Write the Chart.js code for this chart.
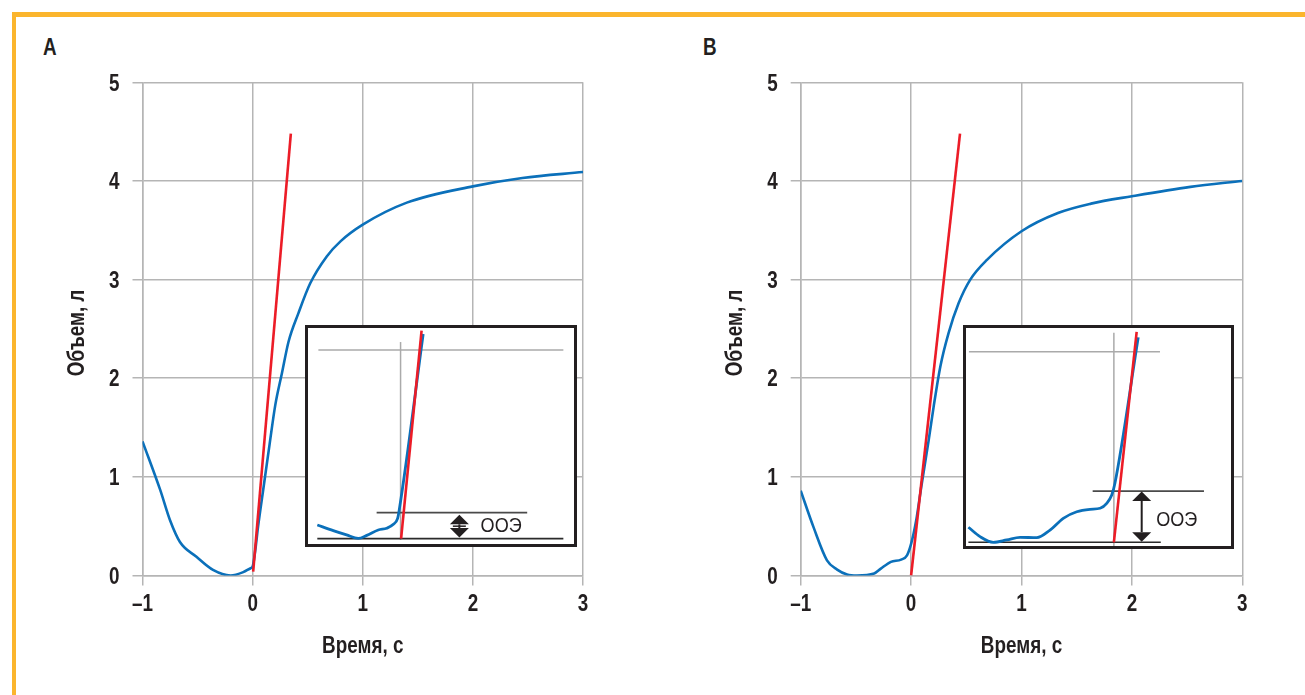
<!DOCTYPE html>
<html lang="ru">
<head>
<meta charset="utf-8">
<title>Объем и время</title>
<script src="https://cdn.jsdelivr.net/npm/chart.js@4.4.1/dist/chart.umd.min.js"></script>
<style>
  html, body { margin: 0; padding: 0; background: #fff; }
  body { width: 1305px; height: 695px; position: relative; overflow: hidden;
         font-family: "Liberation Sans", Arial, sans-serif; }
  .frame { position: absolute; left: 12px; top: 12px; right: -10px; bottom: -10px;
           border-top: 5px solid #fbb52d; border-left: 4px solid #fbb52d; }
  .panel-label { position: absolute; top: 36.3px; font-size: 23px; line-height: 23px;
                 font-weight: bold; color: #231f20; transform: scaleX(0.82); transform-origin: 0 0; }
  .main { position: absolute; top: 60px; }
  .inset { position: absolute; top: 325px; background: #fff; border: 3px solid #231f20;
           box-sizing: border-box; }
  .inset canvas { display: block; }
</style>
</head>
<body>
<div class="frame"></div>
<div class="panel-label" style="left:43px">A</div>
<div class="panel-label" style="left:703px">B</div>

<canvas id="chartA" class="main" style="left:40px" width="560" height="620"></canvas>
<canvas id="chartB" class="main" style="left:698px" width="560" height="620"></canvas>

<div class="inset" style="left:305px; width:272px; height:222px">
  <canvas id="insetA" width="266" height="216"></canvas>
</div>
<div class="inset" style="left:963px; width:271px; height:224px">
  <canvas id="insetB" width="265" height="218"></canvas>
</div>

<script>
// ---------- donnees : axes ----------
const X_TICKS = [-1, 0, 1, 2, 3];
const Y_TICKS = [0, 1, 2, 3, 4, 5];
const X_TITLE = 'Время, с';
const Y_TITLE = 'Объем, л';

// ---------- donnees : graphique A ----------
const timeA   = [-1, -0.84, -0.75, -0.66, -0.51, -0.36, -0.2, -0.085, -0.018, 0, 0.02, 0.05, 0.1,
                 0.154, 0.206, 0.266, 0.326, 0.416, 0.522, 0.673, 0.8, 1.0, 1.4, 2.0, 2.45, 3.0];
const volumeA = [1.36, 0.87, 0.56, 0.34, 0.19, 0.057, 0.0, 0.034, 0.074, 0.09, 0.22, 0.5, 0.9,
                 1.33, 1.73, 2.05, 2.37, 2.66, 2.96, 3.235, 3.39, 3.557, 3.78, 3.945, 4.03, 4.09];
const tangentTimeA   = [0.005, 0.347];
const tangentVolumeA = [0.04, 4.48];

// ---------- donnees : graphique B ----------
const timeB   = [-1, -0.884, -0.762, -0.67, -0.58, -0.49, -0.335, -0.274, -0.183, -0.09, -0.037, 0,
                 0.046, 0.091, 0.159, 0.204, 0.265, 0.34, 0.43, 0.536, 0.687, 1.0, 1.33, 1.63, 2.0, 2.53, 3.0];
const volumeB = [0.86, 0.49, 0.154, 0.06, 0.01, 0.0, 0.02, 0.07, 0.138, 0.161, 0.205, 0.32,
                 0.557, 0.89, 1.37, 1.71, 2.12, 2.46, 2.76, 3.0, 3.2, 3.49, 3.675, 3.77, 3.845, 3.94, 4.0];
const tangentTimeB   = [0, 0.443];
const tangentVolumeB = [0, 4.48];

// ---------- encarts (unites relatives 0..100 du cadre) ----------
const insetTimeA   = [3.5, 9.5, 14.5, 18.9, 22.1, 26.4, 29.6, 32.1, 33.7, 34.2, 43.3];
const insetVolumeA = [8.8, 6.2, 4.2, 2.6, 4.0, 6.5, 7.3, 9.1, 11.9, 15.0, 97.2];
const insetTangentTimeA   = [35.0, 42.7];
const insetTangentVolumeA = [2.5, 98.8];
const insetBaseA  = { x: [3.5, 96.0], y: [2.5, 2.5] };
const insetLevelA = { x: [25.8, 82.4], y: [14.5, 14.5] };
const insetTopA   = { x: [3.9, 96.0], y: [89.8, 89.8] };
const insetZeroA  = { x: [34.8, 34.8], y: [1.9, 93.5] };
const ooeA = { x: 56.9, top: 13.5, bottom: 3.0, labelX: 72.6, labelY: 8.9, bar: true };

const insetTimeB   = [0.9, 5.3, 10.3, 15.4, 20.4, 26.7, 31.7, 36.7, 41.8, 46.8, 50.6, 53.1, 55.0, 56.2, 65.0];
const insetVolumeB = [8.6, 4.3, 1.7, 2.8, 4.0, 3.8, 7.3, 12.7, 15.7, 16.8, 17.3, 19.6, 23.4, 28.8, 95.7];
const insetTangentTimeB   = [55.8, 64.4];
const insetTangentVolumeB = [1.7, 98.2];
const insetBaseB  = { x: [0.9, 73.5], y: [1.7, 1.7] };
const insetLevelB = { x: [47.8, 89.8], y: [25.2, 25.2] };
const insetTopB   = { x: [1.1, 73.2], y: [89.1, 89.1] };
const insetZeroB  = { x: [55.8, 55.8], y: [0, 97.8] };
const ooeB = { x: 66.3, top: 25.0, bottom: 2.0, labelX: 79.5, labelY: 12.5, bar: false };

const OOE_TEXT = 'ООЭ';

// ---------- styles ----------
const FONT = '"Liberation Sans", Arial, sans-serif';
const SQUEEZE = 0.82;          // imite une police etroite (type Arial Narrow)
const TEXT = '#231f20';
const GRID = '#b5b5b5';
const BLUE = '#0b70ba';
const RED = '#ec1c27';

Chart.defaults.font.family = FONT;

function toPoints(xs, ys) {
    return xs.map((x, i) => ({ x: x, y: ys[i] }));
}

function formatTick(value) {
    return value < 0 ? '\u2013' + Math.abs(value) : String(value);
}

// texte etroit : dessine avec une echelle horizontale reduite
function drawNarrow(ctx, text, px, py, align, squeeze, rotate) {
    ctx.save();
    ctx.translate(px, py);
    if (rotate) ctx.rotate(-Math.PI / 2);
    ctx.scale(squeeze, 1);
    ctx.textAlign = align;
    ctx.textBaseline = 'alphabetic';
    ctx.fillText(text, 0, 0);
    ctx.restore();
}

// etiquettes des axes et titres, places via les echelles du graphique
const narrowAxisText = {
    id: 'narrowAxisText',
    afterDraw(chart) {
        const { ctx, chartArea: area, scales: { x, y } } = chart;
        const size = 23;
        const cap = size * 0.716;
        ctx.save();
        ctx.fillStyle = TEXT;
        ctx.font = 'bold ' + size + 'px ' + FONT;
        X_TICKS.forEach(v => {
            drawNarrow(ctx, formatTick(v), x.getPixelForValue(v), area.bottom + 35, 'center', SQUEEZE);
        });
        Y_TICKS.forEach(v => {
            drawNarrow(ctx, formatTick(v), area.left - 23, y.getPixelForValue(v) + cap / 2, 'right', SQUEEZE);
        });
        drawNarrow(ctx, X_TITLE, (area.left + area.right) / 2, area.bottom + 77, 'center', SQUEEZE);
        drawNarrow(ctx, Y_TITLE, area.left - 58.5, (area.top + area.bottom) / 2 + 4, 'center', SQUEEZE, true);
        ctx.restore();
    }
};

function mainChart(id, times, volumes, tTimes, tVolumes, yWidth, padRight) {
    return new Chart(document.getElementById(id), {
        type: 'line',
        data: {
            datasets: [
                { data: toPoints(tTimes, tVolumes), borderColor: RED, borderWidth: 2.6,
                  pointRadius: 0, tension: 0 },
                { data: toPoints(times, volumes), borderColor: BLUE, borderWidth: 2.6,
                  pointRadius: 0, cubicInterpolationMode: 'monotone' }
            ]
        },
        options: {
            responsive: false,
            animation: false,
            events: [],
            layout: { padding: { top: 22.3, right: padRight, bottom: 0, left: 0 } },
            plugins: { legend: { display: false }, tooltip: { enabled: false } },
            scales: {
                x: {
                    type: 'linear', min: -1, max: 3,
                    afterBuildTicks: s => { s.ticks = X_TICKS.map(v => ({ value: v })); },
                    afterFit: s => { s.height = 104.5; },
                    grid: { color: GRID, lineWidth: 1.5, tickLength: 10 },
                    border: { color: GRID, width: 1.5 },
                    ticks: { display: false }
                },
                y: {
                    type: 'linear', min: 0, max: 5,
                    afterBuildTicks: s => { s.ticks = Y_TICKS.map(v => ({ value: v })); },
                    afterFit: s => { s.width = yWidth; },
                    grid: { color: GRID, lineWidth: 1.5, tickLength: 10 },
                    border: { color: GRID, width: 1.5 },
                    ticks: { display: false }
                }
            }
        },
        plugins: [narrowAxisText]
    });
}

// fleche double + etiquette OOE dans l'encart
const ooePlugin = {
    id: 'ooe',
    afterDatasetsDraw(chart, args, opts) {
        const { ctx, scales: { x, y } } = chart;
        const ax = x.getPixelForValue(opts.x);
        const top = y.getPixelForValue(opts.top);
        const bottom = y.getPixelForValue(opts.bottom);
        const hw = 9.5, hh = 9.5;
        ctx.save();
        ctx.fillStyle = TEXT;
        ctx.strokeStyle = TEXT;
        ctx.lineWidth = 2;
        ctx.beginPath();
        ctx.moveTo(ax, top + hh);
        ctx.lineTo(ax, bottom - hh);
        ctx.stroke();
        if (opts.bar) {
            const mid = (top + bottom) / 2;
            ctx.lineWidth = 1.5;
            ctx.beginPath();
            ctx.moveTo(ax - 6.5, mid);
            ctx.lineTo(ax + 6.5, mid);
            ctx.stroke();
        }
        ctx.beginPath();
        ctx.moveTo(ax, top);
        ctx.lineTo(ax - hw, top + hh);
        ctx.lineTo(ax + hw, top + hh);
        ctx.closePath();
        ctx.fill();
        ctx.beginPath();
        ctx.moveTo(ax, bottom);
        ctx.lineTo(ax - hw, bottom - hh);
        ctx.lineTo(ax + hw, bottom - hh);
        ctx.closePath();
        ctx.fill();
        const size = 21;
        ctx.font = size + 'px ' + FONT;
        drawNarrow(ctx, opts.text, x.getPixelForValue(opts.labelX),
                   y.getPixelForValue(opts.labelY) + size * 0.716 / 2, 'center', 0.86);
        ctx.restore();
    }
};

function segment(seg, color, width) {
    return { data: toPoints(seg.x, seg.y), borderColor: color, borderWidth: width,
             pointRadius: 0, tension: 0, clip: false };
}

function insetChart(id, times, volumes, tTimes, tVolumes, base, level, topLine, zero, ooe) {
    return new Chart(document.getElementById(id), {
        type: 'line',
        data: {
            datasets: [
                { data: toPoints(tTimes, tVolumes), borderColor: RED, borderWidth: 2.6,
                  pointRadius: 0, tension: 0, clip: false },
                { data: toPoints(times, volumes), borderColor: BLUE, borderWidth: 2.8,
                  pointRadius: 0, cubicInterpolationMode: 'monotone', clip: false },
                segment(base, '#2b2b2b', 1.6),
                segment(level, '#4a4a4a', 1.8),
                segment(topLine, '#aaaaaa', 1.5),
                segment(zero, '#aaaaaa', 1.5)
            ]
        },
        options: {
            responsive: false,
            animation: false,
            events: [],
            layout: { padding: 0 },
            plugins: {
                legend: { display: false },
                tooltip: { enabled: false },
                ooe: Object.assign({ text: OOE_TEXT }, ooe)
            },
            scales: {
                x: { type: 'linear', min: 0, max: 100, display: false },
                y: { type: 'linear', min: 0, max: 100, display: false }
            }
        },
        plugins: [ooePlugin]
    });
}

mainChart('chartA', timeA, volumeA, tangentTimeA, tangentVolumeA, 102.5, 17);
mainChart('chartB', timeB, volumeB, tangentTimeB, tangentVolumeB, 102.7, 15.7);
insetChart('insetA', insetTimeA, insetVolumeA, insetTangentTimeA, insetTangentVolumeA,
           insetBaseA, insetLevelA, insetTopA, insetZeroA, ooeA);
insetChart('insetB', insetTimeB, insetVolumeB, insetTangentTimeB, insetTangentVolumeB,
           insetBaseB, insetLevelB, insetTopB, insetZeroB, ooeB);
</script>
</body>
</html>
